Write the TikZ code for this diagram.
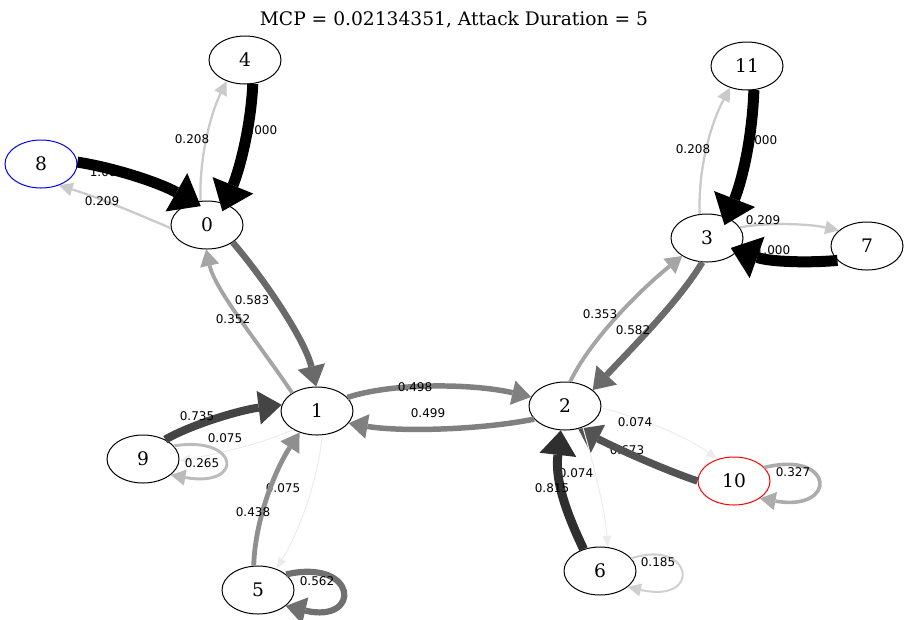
\documentclass[tikz,border=0pt]{standalone}
\usepackage{fontspec}
\setmainfont{DejaVu Serif}
\newfontfamily\lblfont{DejaVu Sans}
\usetikzlibrary{shapes.geometric,arrows.meta}
\begin{document}
\begin{tikzpicture}[x=0.75pt,y=-0.75pt,
 st/.style={ellipse,draw,line width=0.75pt,minimum width=54pt,minimum height=36pt,inner sep=0pt,font=\fontsize{14}{16}\selectfont},
 lb/.style={font=\lblfont\fontsize{9}{10}\selectfont,inner sep=0pt},
 ed/.style n args={4}{draw=black!#1,line width=#2pt,-{Triangle[length=#3pt,width=#4pt,line width=0pt]}},
 deep/.style={shorten >=-6pt}]
\useasboundingbox (0,0) rectangle (909,619);
\node[font=\fontsize{14}{16}\selectfont] (title) at (454,20) {MCP = 0.02134351, Attack Duration = 5};
% edge labels that edges partly cover (drawn first)
\node[lb] (l2) at (260,130) {1.000};
\node[lb] (l3) at (107,172) {1.000};
\node[lb] (l12) at (760,140) {1.000};
\node[lb] (l14) at (773,250) {1.000};
\node[lb] (l18) at (283,488) {0.075};
\node[lb] (l22) at (627,450) {0.673};
\node[lb] (l23) at (576,473) {0.074};
% nodes
\node[st] (n0) at (207,225) {0};
\node[st] (n1) at (317,411) {1};
\node[st] (n2) at (565,406) {2};
\node[st] (n3) at (707,238) {3};
\node[st] (n4) at (245,60) {4};
\node[st] (n5) at (258,590) {5};
\node[st] (n6) at (600,571) {6};
\node[st] (n7) at (867,246) {7};
\node[st,draw=blue] (n8) at (41,164) {8};
\node[st] (n9) at (143,459) {9};
\node[st,draw=red] (n10) at (734,481) {10};
\node[st] (n11) at (747,66) {11};
% edges
\draw[ed={20.8}{1.72}{10.3}{10.4}] (n0.105) .. controls (199,160) and (210,115) .. (n4.229);
\draw[ed={100}{8.25}{21}{33},deep] (n4.-72) .. controls (251,125) and (240,168) .. (n0.49);
\draw[ed={100}{8.25}{21}{33},deep] (n8.3) .. controls (115,168) and (160,183) .. (n0.120);
\draw[ed={20.9}{1.72}{10.3}{10.4}] (n0.185) .. controls (140,215) and (100,198) .. (n8.-50);
\draw[ed={58.3}{4.81}{15.4}{21.1}] (n0.-34) .. controls (265,280) and (305,340) .. (n1.92);
\draw[ed={35.2}{2.91}{12.3}{14.6}] (n1.144) .. controls (260,345) and (215,290) .. (n0.-92);
\draw[ed={49.8}{4.11}{14.2}{18.7}] (n1.24) .. controls (390,383) and (470,383) .. (n2.165);
\draw[ed={49.9}{4.11}{14.2}{18.7}] (n2.203) .. controls (480,430) and (400,432) .. (n1.-21);
\draw[ed={35.3}{2.91}{12.3}{14.6}] (n2.78) .. controls (590,340) and (640,290) .. (n3.216);
\draw[ed={58.2}{4.81}{15.4}{21.1}] (n3.-101) .. controls (680,300) and (630,350) .. (n2.30);
\draw[ed={20.8}{1.72}{10.3}{10.4}] (n3.107) .. controls (698,170) and (710,125) .. (n11.232);
\draw[ed={100}{8.25}{21}{33},deep] (n11.-74) .. controls (752,140) and (742,180) .. (n3.45);
\draw[ed={20.9}{1.72}{10.3}{10.4}] (n3.18) .. controls (770,222) and (810,224) .. (n7.151);
\draw[ed={100}{8.25}{21}{33},deep] (n7.206) .. controls (810,263) and (770,262) .. (n3.-22);
\draw[ed={73.5}{6.06}{17.4}{25.4}] (n9.41) .. controls (190,425) and (240,410) .. (n1.170);
\draw[ed={7.5}{0.75}{8.5}{6.6}] (n1.218) .. controls (260,445) and (210,455) .. (n9.-3);
\draw[ed={26.5}{2.19}{11.1}{12.1}] (n9.23) .. controls (240,435) and (245,488) .. (n9.-30);
\draw[ed={7.5}{0.75}{8.5}{6.6}] (n1.-78) .. controls (318,480) and (300,530) .. (n5.49);
\draw[ed={43.8}{3.61}{13.4}{17.0}] (n5.100) .. controls (255,520) and (275,470) .. (n1.231);
\draw[ed={56.2}{4.64}{15.1}{20.5}] (n5.29) .. controls (358,558) and (362,624) .. (n5.-30);
\draw[ed={7.4}{0.75}{8.5}{6.6}] (n2.-3) .. controls (630,415) and (680,432) .. (n10.127);
\draw[ed={67.3}{5.55}{16.6}{23.7}] (n10.180) .. controls (665,470) and (620,450) .. (n2.-60);
\draw[ed={7.4}{0.75}{8.5}{6.6}] (n2.-50) .. controls (595,470) and (605,510) .. (n6.72);
\draw[ed={81.5}{6.72}{18.5}{27.7}] (n6.127) .. controls (565,510) and (555,480) .. (n2.-100);
\draw[ed={18.5}{1.53}{10}{9.8}] (n6.22) .. controls (693,538) and (703,604) .. (n6.-30);
\draw[ed={32.7}{2.70}{11.9}{13.8}] (n10.24) .. controls (835,450) and (838,512) .. (n10.-34);
% edge labels drawn on top
\node[lb] (l1) at (192,139) {0.208};
\node[lb] (l4) at (102,201) {0.209};
\node[lb] (l5) at (252,300) {0.583};
\node[lb] (l6) at (233,319) {0.352};
\node[lb] (l7) at (415,387) {0.498};
\node[lb] (l8) at (428,413) {0.499};
\node[lb] (l9) at (600,314) {0.353};
\node[lb] (l10) at (633,330) {0.582};
\node[lb] (l11) at (693,149) {0.208};
\node[lb] (l13) at (763,220) {0.209};
\node[lb] (l15) at (197,416) {0.735};
\node[lb] (l16) at (225,438) {0.075};
\node[lb] (l17) at (202,463) {0.265};
\node[lb] (l19) at (253,512) {0.438};
\node[lb] (l20) at (317,581) {0.562};
\node[lb] (l21) at (635,422) {0.074};
\node[lb] (l24) at (552,488) {0.815};
\node[lb] (l25) at (658,562) {0.185};
\node[lb] (l26) at (793,472) {0.327};
\end{tikzpicture}
\end{document}
